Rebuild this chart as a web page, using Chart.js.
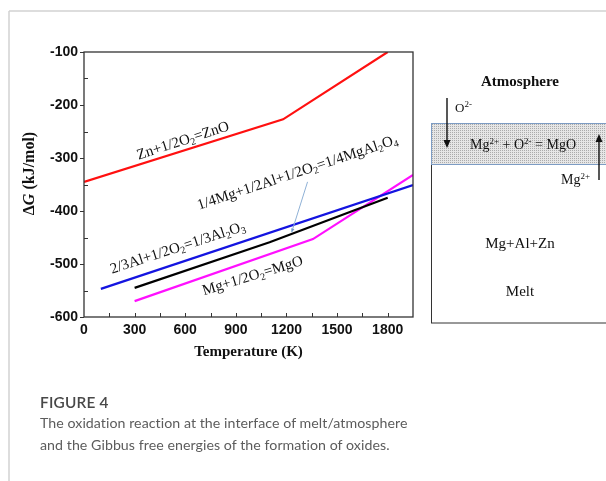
<!DOCTYPE html>
<html>
<head>
<meta charset="utf-8">
<script src="https://cdn.jsdelivr.net/npm/chart.js@4.4.1/dist/chart.umd.min.js"></script>
<style>
  body { margin: 0; background: #fff; width: 606px; height: 481px; overflow: hidden; position: relative; }
  #chartBox { position: absolute; left: 0; top: 30px; width: 420px; height: 340px; }
  #scheme { position: absolute; left: 0; top: 0; }
  .cap { position: absolute; left: 40px; font-family: Lato, "Open Sans", sans-serif; }
  #capTitle { top: 393px; font-size: 15.4px; font-weight: 600; color: #484848; letter-spacing: 0.2px; }
  #capText { top: 412px; font-size: 14.2px; line-height: 22px; color: #5c5c5c; letter-spacing: 0.05px; }
</style>
</head>
<body>
<div id="chartBox"><canvas id="dgChart" width="420" height="340"></canvas></div>

<svg id="scheme" width="606" height="481">
  <defs>
    <pattern id="dots" width="2" height="2" patternUnits="userSpaceOnUse">
      <rect width="2" height="2" fill="#e6e6e6"/>
      <rect width="1" height="1" fill="#ababab"/>
    </pattern>
  </defs>
  <!-- page frame -->
  <line x1="9" y1="11" x2="606" y2="11" stroke="#d2d2d2" stroke-width="1.5"/>
  <line x1="9" y1="11" x2="9" y2="481" stroke="#d2d2d2" stroke-width="1.5"/>

  <!-- melt / atmosphere sketch -->
  <rect x="431.5" y="123.5" width="200" height="199.5" fill="none" stroke="#333" stroke-width="1"/>
  <rect x="431.5" y="123.5" width="200" height="41" fill="url(#dots)" stroke="#7d9cc4" stroke-width="1"/>
  <g font-family="Liberation Serif, serif" fill="#111">
    <text x="520" y="86" font-size="15" font-weight="bold" text-anchor="middle">Atmosphere</text>
    <text x="455" y="112" font-size="13">O<tspan dy="-5" font-size="9">2-</tspan></text>
    <text x="523" y="149" font-size="14" text-anchor="middle">Mg<tspan dy="-5" font-size="9">2+</tspan><tspan dy="5"> + O</tspan><tspan dy="-5" font-size="9">2-</tspan><tspan dy="5"> = MgO</tspan></text>
    <text x="590" y="184" font-size="14" text-anchor="end">Mg<tspan dy="-5" font-size="9">2+</tspan></text>
    <text x="520" y="248" font-size="15" text-anchor="middle">Mg+Al+Zn</text>
    <text x="520" y="296" font-size="15" text-anchor="middle">Melt</text>
  </g>
  <g stroke="#111" stroke-width="1.4" fill="#111">
    <line x1="447" y1="98" x2="447" y2="141"/>
    <path d="M443.5 140 L450.5 140 L447 148 Z" stroke="none"/>
    <line x1="599" y1="180" x2="599" y2="141"/>
    <path d="M595.5 142 L602.5 142 L599 134 Z" stroke="none"/>
  </g>
</svg>

<div class="cap" id="capTitle">FIGURE 4</div>
<div class="cap" id="capText">The oxidation reaction at the interface of melt/atmosphere<br>and the Gibbus free energies of the formation of oxides.</div>

<script>
// Gibbs free energy of oxide formation vs temperature

const xTickLabels = [0, 300, 600, 900, 1200, 1500, 1800];
const yTickLabels = [-600, -500, -400, -300, -200, -100];

// Zn + 1/2 O2 = ZnO
const znTemp = [0, 1180, 1800];
const znDG = [-345, -227, -100];
// 2/3Al + 1/2O2 = 1/3Al2O3
const alTemp = [100, 1950];
const alDG = [-547, -351];
// 1/4Mg + 1/2Al + 1/2O2 = 1/4MgAl2O4
const spTemp = [300, 1100, 1800];
const spDG = [-545, -459, -375];
// Mg + 1/2O2 = MgO
const mgTemp = [300, 1357, 1950];
const mgDG = [-570, -453, -332];

// labels on the curves: text, temperature, dG, angle (deg)
const curveLabels = [
    ['Zn+1/2O_2=ZnO', 587, -268, -18],
    ['1/4Mg+1/2Al+1/2O_2=1/4MgAl_2O_4', 1266, -328, -18.4],
    ['2/3Al+1/2O_2=1/3Al_2O_3', 556, -470, -18],
    ['Mg+1/2O_2=MgO', 1000, -523, -17]
];
// pointer from the spinel label to its line
const pointerFrom = [1325, -345];
const pointerTo = [1231, -440];

function toPoints(xs, ys) {
    return xs.map((x, i) => ({ x: x, y: ys[i] }));
}

// draws text with "_n" parts as subscripts
function drawRich(ctx, str, x, y, angle) {
    const parts = str.split(/_(\d)/);
    const main = '15px "Liberation Serif", serif';
    const sub = '10px "Liberation Serif", serif';
    let total = 0;
    parts.forEach((p, i) => {
        ctx.font = i % 2 ? sub : main;
        total += ctx.measureText(p).width;
    });
    ctx.save();
    ctx.translate(x, y);
    ctx.rotate(angle * Math.PI / 180);
    ctx.textBaseline = 'middle';
    ctx.textAlign = 'left';
    ctx.fillStyle = '#111';
    let cx = -total / 2;
    parts.forEach((p, i) => {
        ctx.font = i % 2 ? sub : main;
        ctx.fillText(p, cx, i % 2 ? 4 : 0);
        cx += ctx.measureText(p).width;
    });
    ctx.restore();
}

const decorPlugin = {
    id: 'decor',
    afterDraw(chart) {
        const ctx = chart.ctx;
        const area = chart.chartArea;
        const xs = chart.scales.x;
        const ys = chart.scales.y;

        // frame
        ctx.save();
        ctx.strokeStyle = '#333';
        ctx.lineWidth = 1.3;
        ctx.strokeRect(area.left, area.top, area.right - area.left, area.bottom - area.top);

        // x ticks (inside)
        ctx.lineWidth = 1;
        ctx.beginPath();
        for (let v = 150; v < 1950; v += 150) {
            const px = Math.round(xs.getPixelForValue(v)) + 0.5;
            ctx.moveTo(px, area.bottom);
            ctx.lineTo(px, area.bottom - 4);
        }
        // y ticks: majors outside, minors inside
        for (let v = -600; v <= -100; v += 50) {
            const py = Math.round(ys.getPixelForValue(v)) + 0.5;
            if (v % 100 === 0) {
                ctx.moveTo(area.left, py);
                ctx.lineTo(area.left - 4, py);
            } else {
                ctx.moveTo(area.left, py);
                ctx.lineTo(area.left + 4, py);
            }
        }
        ctx.stroke();

        // pointer arrow
        const x1 = xs.getPixelForValue(pointerFrom[0]), y1 = ys.getPixelForValue(pointerFrom[1]);
        const x2 = xs.getPixelForValue(pointerTo[0]), y2 = ys.getPixelForValue(pointerTo[1]);
        ctx.strokeStyle = '#8fb1d6';
        ctx.fillStyle = '#6f98c8';
        ctx.beginPath();
        ctx.moveTo(x1, y1);
        ctx.lineTo(x2, y2);
        ctx.stroke();
        const a = Math.atan2(y2 - y1, x2 - x1);
        ctx.beginPath();
        ctx.moveTo(x2, y2);
        ctx.lineTo(x2 - 4 * Math.cos(a - 0.45), y2 - 4 * Math.sin(a - 0.45));
        ctx.lineTo(x2 - 4 * Math.cos(a + 0.45), y2 - 4 * Math.sin(a + 0.45));
        ctx.closePath();
        ctx.fill();
        ctx.restore();

        // curve labels
        curveLabels.forEach(l => {
            drawRich(ctx, l[0], xs.getPixelForValue(l[1]), ys.getPixelForValue(l[2]), l[3]);
        });

        // y axis title with italic G
        ctx.save();
        ctx.translate(30, 143.5);
        ctx.rotate(-Math.PI / 2);
        ctx.fillStyle = '#111';
        ctx.textBaseline = 'middle';
        const segs = [
            ['bold 16px "Liberation Serif", serif', '\u0394'],
            ['italic bold 16px "Liberation Serif", serif', 'G'],
            ['bold 16px "Liberation Serif", serif', ' (kJ/mol)']
        ];
        let w = 0;
        segs.forEach(s => { ctx.font = s[0]; w += ctx.measureText(s[1]).width; });
        let cx = -w / 2;
        segs.forEach(s => {
            ctx.font = s[0];
            ctx.fillText(s[1], cx, 0);
            cx += ctx.measureText(s[1]).width;
        });
        ctx.restore();
    }
};

const tickFont = { family: '"Liberation Sans", Arial, sans-serif', size: 14, weight: 'bold' };

function renderChart() {
    const ctx = document.getElementById('dgChart').getContext('2d');
    new Chart(ctx, {
        type: 'line',
        data: {
            datasets: [
                { label: 'ZnO', data: toPoints(znTemp, znDG), borderColor: '#ff1010' },
                { label: 'Al2O3', data: toPoints(alTemp, alDG), borderColor: '#1414e0' },
                { label: 'MgAl2O4', data: toPoints(spTemp, spDG), borderColor: '#000000' },
                { label: 'MgO', data: toPoints(mgTemp, mgDG), borderColor: '#ff10ff' }
            ]
        },
        options: {
            responsive: false,
            animation: false,
            devicePixelRatio: 1,
            layout: { padding: { top: 22, right: 7, bottom: 0, left: 0 } },
            elements: {
                line: { borderWidth: 2.2, tension: 0 },
                point: { radius: 0 }
            },
            scales: {
                x: {
                    type: 'linear',
                    min: 0,
                    max: 1950,
                    afterBuildTicks: s => { s.ticks = xTickLabels.map(v => ({ value: v })); },
                    afterFit: s => { s.height = 53; },
                    grid: { display: false, drawTicks: false },
                    border: { display: false },
                    ticks: { font: tickFont, color: '#111', padding: 5, maxRotation: 0, autoSkip: false,
                             callback: v => String(v) },
                    title: {
                        display: true,
                        text: 'Temperature (K)',
                        color: '#111',
                        font: { family: '"Liberation Serif", serif', size: 15, weight: 'bold' },
                        padding: { top: 0, bottom: 9 }
                    }
                },
                y: {
                    type: 'linear',
                    min: -600,
                    max: -100,
                    afterBuildTicks: s => { s.ticks = yTickLabels.map(v => ({ value: v })); },
                    afterFit: s => { s.width = 84; },
                    grid: { display: false, drawTicks: false },
                    border: { display: false },
                    ticks: { font: tickFont, color: '#111', padding: 6, autoSkip: false,
                             callback: v => String(v) }
                }
            },
            plugins: {
                legend: { display: false },
                tooltip: { enabled: false }
            }
        },
        plugins: [decorPlugin]
    });
}

document.addEventListener('DOMContentLoaded', renderChart);
</script>
</body>
</html>
